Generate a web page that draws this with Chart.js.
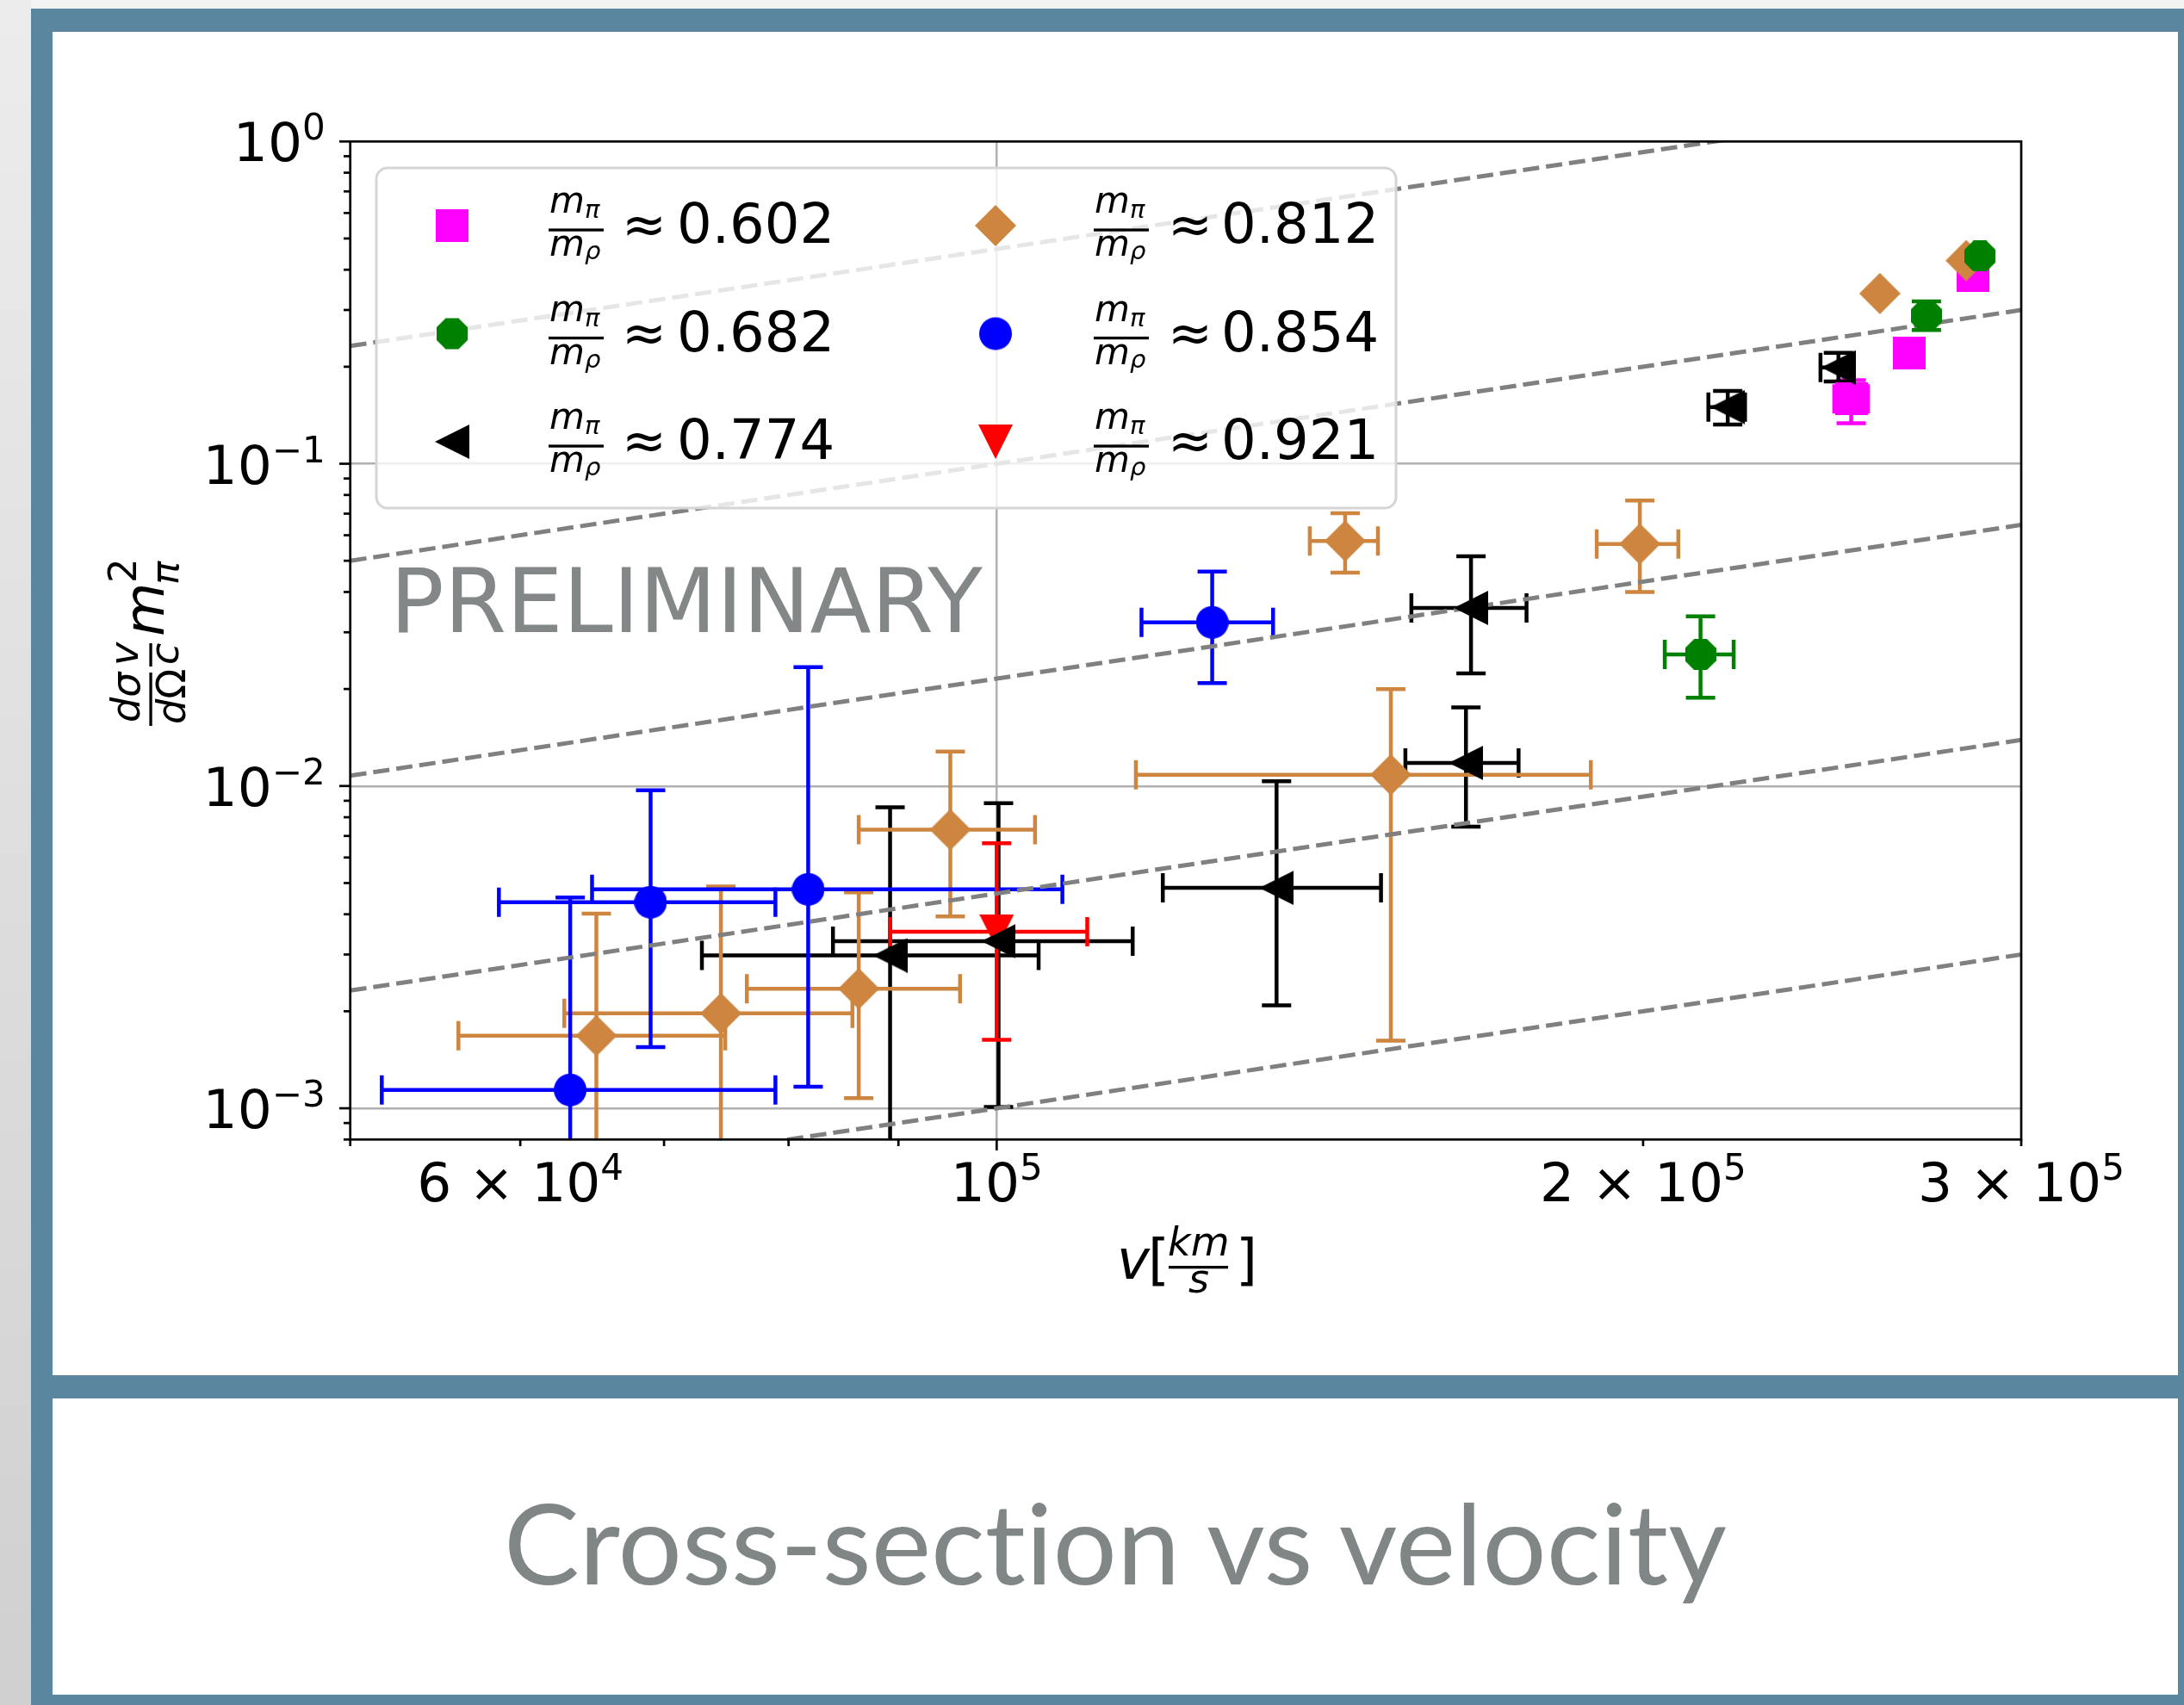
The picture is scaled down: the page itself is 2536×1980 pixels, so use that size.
<!DOCTYPE html>
<html>
<head>
<meta charset="utf-8">
<script src="https://cdn.jsdelivr.net/npm/chart.js@4.4.1/dist/chart.umd.min.js"></script>
<style>
  html, body { margin: 0; padding: 0; }
  body { width: 2536px; height: 1980px; position: relative; overflow: hidden; background: #f3f3f3; }
  .side { position: absolute; left: 0; top: 0; width: 36px; height: 1980px; background: linear-gradient(#ececec, #d0d0d0); }
  .frame { position: absolute; left: 36px; top: 10px; width: 2500px; height: 1970px; background: #5a86a0; }
  .panel { position: absolute; background: #fff; }
  #wrap { position: absolute; left: 0; top: 0; width: 2536px; height: 1980px; }
  #overlay { position: absolute; left: 0; top: 0; font-variant-ligatures: none; }
</style>
</head>
<body>
<div class="side"></div>
<div class="frame"></div>
<div class="panel" style="left:61px;top:37px;width:2468px;height:1560px"></div>
<div class="panel" style="left:61px;top:1624px;width:2468px;height:344px"></div>
<div id="wrap"><canvas id="chart"></canvas></div>
<svg id="overlay" width="2536" height="1980" xmlns="http://www.w3.org/2000/svg"></svg>
<script>
// axis ranges and ticks
const xMin = 5e4, xMax = 3e5, yMin = 8e-4, yMax = 1;
const xTickValues = [5e4, 6e4, 7e4, 8e4, 9e4, 1e5, 2e5, 3e5];
const xMajorTicks = [1e5];
// tick labels as [mantissa part, exponent]
const xTickText = { 60000: ['6 × 10', '4'], 100000: ['10', '5'], 200000: ['2 × 10', '5'], 300000: ['3 × 10', '5'] };
const yTickValues = [8e-4, 9e-4,
  1e-3, 2e-3, 3e-3, 4e-3, 5e-3, 6e-3, 7e-3, 8e-3, 9e-3,
  1e-2, 2e-2, 3e-2, 4e-2, 5e-2, 6e-2, 7e-2, 8e-2, 9e-2,
  1e-1, 2e-1, 3e-1, 4e-1, 5e-1, 6e-1, 7e-1, 8e-1, 9e-1, 1];
const yMajorTicks = [1e-3, 1e-2, 1e-1, 1];
const yTickText = { 0.001: ['10', '−3'], 0.01: ['10', '−2'], 0.1: ['10', '−1'], 1: ['10', '0'] };

// dashed guide lines (y at v = 5e4 and at v = 3e5)
const guideStart = [5e-4, 2.32e-3, 1.077e-2, 5e-2, 0.232];
const guideEnd = [3e-3, 1.39e-2, 6.46e-2, 0.3, 1.39];

const ratioLabels = ['0.602', '0.682', '0.774', '0.812', '0.854', '0.921'];

// m_pi/m_rho = 0.602
const v602 = [2.85e5, 2.66e5, 2.50e5];
const y602 = [0.384, 0.220, 0.159];
const vErr602 = [null, null, [2.455e5, 2.545e5]];
const yErr602 = [null, null, [0.1335, 0.1817]];

// m_pi/m_rho = 0.682
const v682 = [2.87e5, 2.71e5, 2.127e5];
const y682 = [0.441, 0.288, 0.0256];
const vErr682 = [null, null, [2.047e5, 2.204e5]];
const yErr682 = [null, [0.260, 0.319], [0.0188, 0.0336]];

// m_pi/m_rho = 0.774
const v774 = [2.19e5, 2.466e5, 1.663e5, 1.654e5, 1.350e5, 1.002e5, 0.892e5];
const y774 = [0.150, 0.199, 0.0357, 0.0118, 0.00483, 0.0033, 0.00298];
const vErr774 = [[2.145e5, 2.231e5], [2.419e5, 2.504e5], [1.560e5, 1.765e5], [1.550e5, 1.750e5],
  [1.195e5, 1.510e5], [0.839e5, 1.157e5], [0.729e5, 1.046e5]];
const yErr774 = [[0.1324, 0.1683], [0.180, 0.221], [0.02235, 0.0516], [0.00748, 0.01753],
  [0.002085, 0.01035], [0.00101, 0.00884], [0.0005, 0.00859]];

// m_pi/m_rho = 0.812
const v812 = [2.828e5, 2.578e5, 1.453e5, 1.993e5, 1.526e5, 0.9515e5, 0.8625e5, 0.744e5, 0.651e5];
const y812 = [0.427, 0.3375, 0.0576, 0.0564, 0.01084, 0.00732, 0.00235, 0.00197, 0.00168];
const vErr812 = [null, null, [1.399e5, 1.505e5], [1.903e5, 2.077e5], [1.161e5, 1.891e5],
  [0.8625e5, 1.042e5], [0.765e5, 0.9615e5], [0.629e5, 0.8567e5], [0.5615e5, 0.7475e5]];
const yErr812 = [null, null, [0.0459, 0.0702], [0.0400, 0.0769], [0.00162, 0.0200],
  [0.00394, 0.01279], [0.001075, 0.00468], [0.0005, 0.00488], [0.0005, 0.00402]];

// m_pi/m_rho = 0.854
const v854 = [1.260e5, 0.817e5, 0.690e5, 0.633e5];
const y854 = [0.0322, 0.00478, 0.00436, 0.00114];
const vErr854 = [[1.168e5, 1.345e5], [0.648e5, 1.073e5], [0.5864e5, 0.7888e5], [0.5172e5, 0.7888e5]];
const yErr854 = [[0.02085, 0.04627], [0.001167, 0.02337], [0.001548, 0.0097], [0.0005, 0.00451]];

// m_pi/m_rho = 0.921
const v921 = [1.0e5];
const y921 = [0.00353];
const vErr921 = [[0.892e5, 1.102e5]];
const yErr921 = [[0.00163, 0.00664]];

// marker glyphs drawn once into small canvases
function makeMarker(shape, color, w) {
  const c = document.createElement('canvas');
  c.width = w; c.height = w;
  const g = c.getContext('2d');
  const r = w / 2;
  g.fillStyle = color;
  g.beginPath();
  if (shape === 'square') g.rect(0, 0, w, w);
  if (shape === 'circle') g.arc(r, r, r, 0, Math.PI * 2);
  if (shape === 'diamond') { g.moveTo(r, 0); g.lineTo(w, r); g.lineTo(r, w); g.lineTo(0, r); }
  if (shape === 'left') { g.moveTo(0, r); g.lineTo(w, 0); g.lineTo(w, w); }
  if (shape === 'down') { g.moveTo(0, 0); g.lineTo(w, 0); g.lineTo(r, w); }
  if (shape === 'octagon') {
    const R = r / Math.cos(Math.PI / 8);
    for (let k = 0; k < 8; k++) {
      const a = Math.PI / 8 + k * Math.PI / 4;
      const px = r + R * Math.cos(a), py = r + R * Math.sin(a);
      k ? g.lineTo(px, py) : g.moveTo(px, py);
    }
  }
  g.closePath();
  g.fill();
  return c;
}

const series = [
  { ratio: ratioLabels[0], color: '#ff00ff', shape: 'square', size: 38, order: 6, v: v602, y: y602, vErr: vErr602, yErr: yErr602 },
  { ratio: ratioLabels[1], color: '#008000', shape: 'octagon', size: 36, order: 2, v: v682, y: y682, vErr: vErr682, yErr: yErr682 },
  { ratio: ratioLabels[2], color: '#000000', shape: 'left', size: 40, order: 3, v: v774, y: y774, vErr: vErr774, yErr: yErr774 },
  { ratio: ratioLabels[3], color: '#cd853f', shape: 'diamond', size: 48, order: 4, v: v812, y: y812, vErr: vErr812, yErr: yErr812 },
  { ratio: ratioLabels[4], color: '#0000ff', shape: 'circle', size: 38, order: 1, v: v854, y: y854, vErr: vErr854, yErr: yErr854 },
  { ratio: ratioLabels[5], color: '#ff0000', shape: 'down', size: 40, order: 5, v: v921, y: y921, vErr: vErr921, yErr: yErr921 }
];
series.forEach(s => { s.marker = makeMarker(s.shape, s.color, s.size); });

const guideSets = guideStart.map((y0, i) => ({
  type: 'line',
  data: [{ x: xMin, y: y0 }, { x: xMax, y: guideEnd[i] }],
  borderColor: '#808080',
  borderWidth: 5,
  borderDash: [19, 8],
  pointRadius: 0,
  showLine: true,
  clip: 0,
  order: 10
}));

const pointSets = series.map(s => ({
  label: s.ratio,
  data: s.v.map((v, i) => ({ x: v, y: s.y[i] })),
  pointStyle: s.marker,
  pointRadius: s.size / 2,
  backgroundColor: s.color,
  borderColor: s.color,
  order: s.order
}));

const CAP = 17;
const isDecade = v => Math.abs(Math.log10(v) - Math.round(Math.log10(v))) < 1e-9;

// "10" + raised exponent, like matplotlib mathtext
function powerLabel(ctx, parts, x, baseY, align) {
  ctx.font = '63px "DejaVu Sans"';
  const wb = ctx.measureText(parts[0]).width;
  ctx.font = '42px "DejaVu Sans"';
  const we = ctx.measureText(parts[1]).width;
  const x0 = align === 'right' ? x - wb - we : x - (wb + we) / 2;
  ctx.textAlign = 'left';
  ctx.textBaseline = 'alphabetic';
  ctx.fillStyle = '#000';
  ctx.font = '63px "DejaVu Sans"';
  ctx.fillText(parts[0], x0, baseY);
  ctx.font = '42px "DejaVu Sans"';
  ctx.fillText(parts[1], x0 + wb, baseY - 25);
}

const axesPlugin = {
  id: 'axesPlugin',
  beforeDatasetsDraw(chart) {
    const { ctx, chartArea: a, scales: { x, y } } = chart;
    ctx.save();
    ctx.beginPath();
    ctx.rect(a.left, a.top, a.right - a.left, a.bottom - a.top);
    ctx.clip();
    ctx.lineWidth = 4.5;
    const seg = (x0, y0, x1, y1) => { ctx.beginPath(); ctx.moveTo(x0, y0); ctx.lineTo(x1, y1); ctx.stroke(); };
    series.forEach(s => {
      ctx.strokeStyle = s.color;
      s.v.forEach((v, i) => {
        const px = x.getPixelForValue(v), py = y.getPixelForValue(s.y[i]);
        const vr = s.vErr[i], yr = s.yErr[i];
        if (vr) {
          const x0 = x.getPixelForValue(vr[0]), x1 = x.getPixelForValue(vr[1]);
          seg(x0, py, x1, py);
          seg(x0, py - CAP, x0, py + CAP);
          seg(x1, py - CAP, x1, py + CAP);
        }
        if (yr) {
          const y0 = y.getPixelForValue(yr[0]), y1 = y.getPixelForValue(yr[1]);
          seg(px, y0, px, y1);
          seg(px - CAP, y0, px + CAP, y0);
          seg(px - CAP, y1, px + CAP, y1);
        }
      });
    });
    ctx.restore();
  },
  afterDatasetsDraw(chart) {
    const { ctx, chartArea: a, scales: { x, y } } = chart;
    ctx.save();
    ctx.strokeStyle = '#000';
    ctx.lineWidth = 2.7;
    ctx.strokeRect(a.left, a.top, a.right - a.left, a.bottom - a.top);
    xTickValues.forEach(v => {
      const px = x.getPixelForValue(v);
      const len = xMajorTicks.includes(v) ? 12.7 : 7.7;
      ctx.beginPath(); ctx.moveTo(px, a.bottom); ctx.lineTo(px, a.bottom + len); ctx.stroke();
      if (xTickText[v]) powerLabel(ctx, xTickText[v], px, a.bottom + 71.7, 'center');
    });
    yTickValues.forEach(v => {
      const py = y.getPixelForValue(v);
      const len = yMajorTicks.includes(v) ? 12.7 : 7.7;
      ctx.beginPath(); ctx.moveTo(a.left, py); ctx.lineTo(a.left - len, py); ctx.stroke();
      if (yTickText[v]) powerLabel(ctx, yTickText[v], a.left - 29, py + 23, 'right');
    });
    ctx.restore();
  }
};

new Chart(document.getElementById('chart'), {
  type: 'scatter',
  data: { datasets: [...guideSets, ...pointSets] },
  options: {
    responsive: true,
    maintainAspectRatio: false,
    animation: false,
    devicePixelRatio: 1,
    layout: { padding: { left: 0, top: 164.3, right: 189, bottom: 0 } },
    plugins: { legend: { display: false }, tooltip: { enabled: false } },
    scales: {
      x: {
        type: 'logarithmic', min: xMin, max: xMax, bounds: 'data',
        afterBuildTicks: s => { s.ticks = xTickValues.map(v => ({ value: v })); },
        afterFit: s => { s.height = 1980 - 1323.3; },
        ticks: { display: false, autoSkip: false },
        grid: { drawTicks: false, lineWidth: 2.5,
          color: c => (c.tick && xMajorTicks.includes(c.tick.value)) ? '#b0b0b0' : 'rgba(0,0,0,0)' },
        border: { display: false }
      },
      y: {
        type: 'logarithmic', min: yMin, max: yMax, bounds: 'data',
        afterBuildTicks: s => { s.ticks = yTickValues.map(v => ({ value: v })); },
        afterFit: s => { s.width = 406.7; },
        ticks: { display: false, autoSkip: false },
        grid: { drawTicks: false, lineWidth: 2.5,
          color: c => (c.tick && isDecade(c.tick.value) && c.tick.value < 1) ? '#b0b0b0' : 'rgba(0,0,0,0)' },
        border: { display: false }
      }
    }
  },
  plugins: [axesPlugin]
});

// overlay text: legend, axis titles, watermark, slide title
const NS = 'http://www.w3.org/2000/svg';
const overlay = document.getElementById('overlay');
function el(tag, attrs, parent) {
  const e = document.createElementNS(NS, tag);
  for (const k in attrs) e.setAttribute(k, attrs[k]);
  (parent || overlay).appendChild(e);
  return e;
}
function txt(str, attrs, parent) {
  const t = el('text', Object.assign({ 'font-family': 'DejaVu Sans', fill: '#000' }, attrs), parent);
  t.textContent = str;
  return t;
}
function mathSub(base, sub, x, y, size, subSize, dy, parent) {
  const t = el('text', { x, y, 'font-family': 'DejaVu Sans', 'font-size': size, 'font-style': 'italic', fill: '#000' }, parent);
  t.appendChild(document.createTextNode(base));
  const s = el('tspan', { 'font-size': subSize, dy }, t);
  s.textContent = sub;
  return t;
}

// watermark
txt('PRELIMINARY', { x: 453, y: 734, 'font-size': 104, fill: '#848787' });

// legend
el('rect', { x: 437, y: 195, width: 1184, height: 395, rx: 13, fill: 'rgba(255,255,255,0.8)', stroke: '#d5d5d5', 'stroke-width': 3 });
const legendCols = [{ mx: 525, fx: 637, ax: 722, nx: 786 }, { mx: 1156, fx: 1270, ax: 1356, nx: 1418 }];
const legendRows = [262, 387.5, 513];
series.forEach((s, i) => {
  const col = legendCols[Math.floor(i / 3)], ry = legendRows[i % 3];
  el('image', { href: s.marker.toDataURL(), x: col.mx - s.size / 2, y: ry - s.size / 2, width: s.size, height: s.size });
  mathSub('m', 'π', col.fx + 1, ry - 15, 42, 29, 6);
  el('rect', { x: col.fx, y: ry + 3.4, width: 64, height: 3.3, fill: '#000' });
  mathSub('m', 'ρ', col.fx + 1, ry + 35, 42, 29, 4);
  txt('≈', { x: col.ax, y: ry + 20, 'font-size': 62 });
  txt(s.ratio, { x: col.nx, y: ry + 20, 'font-size': 64 });
});

// x axis title: v[km/s]
txt('v', { x: 1297, y: 1485, 'font-size': 64, 'font-style': 'italic' });
txt('[', { x: 1333, y: 1485, 'font-size': 64 });
txt('km', { x: 1356, y: 1458, 'font-size': 46, 'font-style': 'italic' });
el('rect', { x: 1357, y: 1470, width: 69, height: 3.3, fill: '#000' });
txt('s', { x: 1380, y: 1501, 'font-size': 46, 'font-style': 'italic' });
txt(']', { x: 1435, y: 1485, 'font-size': 64 });

// y axis title: (dσ/dΩ)(v/c) m_π^2
const yt = el('g', { transform: 'translate(190,843) rotate(-90)' });
txt('dσ', { x: 4, y: -28, 'font-size': 46, 'font-style': 'italic' }, yt);
el('rect', { x: 0, y: -16.6, width: 62, height: 3.3, fill: '#000' }, yt);
const dO = el('text', { x: 2, y: 25, 'font-family': 'DejaVu Sans', 'font-size': 46, fill: '#000' }, yt);
const dPart = el('tspan', { 'font-style': 'italic' }, dO); dPart.textContent = 'd';
const oPart = el('tspan', {}, dO); oPart.textContent = 'Ω';
txt('v', { x: 70, y: -30, 'font-size': 46, 'font-style': 'italic' }, yt);
el('rect', { x: 69, y: -16.6, width: 27, height: 3.3, fill: '#000' }, yt);
txt('c', { x: 71, y: 17, 'font-size': 46, 'font-style': 'italic' }, yt);
txt('m', { x: 104, y: 0, 'font-size': 64, 'font-style': 'italic' }, yt);
txt('2', { x: 166, y: -32, 'font-size': 45 }, yt);
txt('π', { x: 164, y: 17, 'font-size': 45, 'font-style': 'italic' }, yt);

// slide title
txt('Cross-section vs velocity', { x: 1295, y: 1840, 'font-size': 130, 'font-family': 'Lato', fill: '#808585',
  'text-anchor': 'middle', textLength: 1420, lengthAdjust: 'spacingAndGlyphs', style: 'font-variant-ligatures: none' });
</script>
</body>
</html>
